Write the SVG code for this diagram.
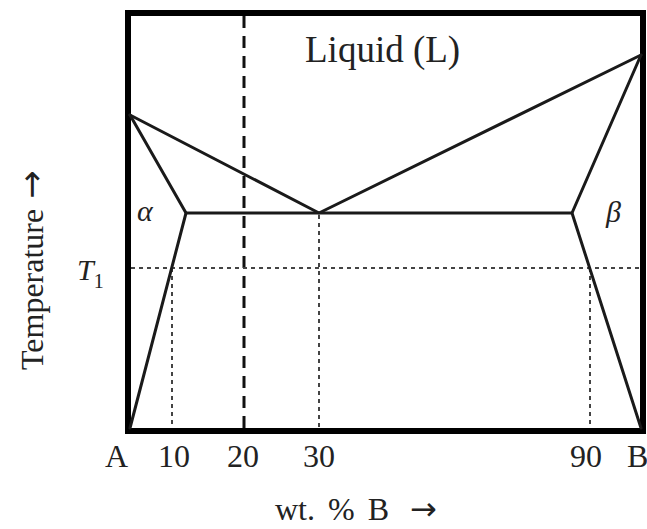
<svg xmlns="http://www.w3.org/2000/svg" width="647" height="529" viewBox="0 0 647 529">
<style>
.t{font-family:"Liberation Serif","Times New Roman",serif;fill:#222}
.i{font-style:italic}
.ar{font-family:"DejaVu Sans",sans-serif}
.ph{fill:none;stroke:#1a1a1a;stroke-width:3;stroke-linecap:round;stroke-linejoin:round}
.dot{fill:none;stroke:#444;stroke-width:2;stroke-dasharray:4 4}
.dash{fill:none;stroke:#111;stroke-width:3;stroke-dasharray:12 8}
</style>
<rect width="647" height="529" fill="#fff"/>
<g id="frame">
<rect x="128" y="13" width="515" height="418" fill="none" stroke="#000" stroke-width="6"/>
</g>
<g id="guides">
<line class="dash" x1="244" y1="16" x2="244" y2="428"/>
<line class="dot" x1="131" y1="268" x2="640" y2="268"/>
<line class="dot" x1="172" y1="268" x2="172" y2="428"/>
<line class="dot" x1="319" y1="215" x2="319" y2="428"/>
<line class="dot" x1="590" y1="268" x2="590" y2="428"/>
</g>
<g id="phase-lines">
<polyline class="ph" points="130,115 319,213 641,55"/>
<polyline class="ph" points="130,115 186,213 130,428"/>
<polyline class="ph" points="641,55 572,213 641,428"/>
<line class="ph" x1="186" y1="213" x2="572" y2="213"/>
</g>
<g id="labels">
<text class="t" x="305" y="62" font-size="37">Liquid (L)</text>
<text class="t i" x="137" y="221" font-size="30">α</text>
<text class="t i" x="606" y="222" font-size="30">β</text>
<text class="t i" x="77" y="280" font-size="30">T<tspan font-size="20" dy="8" font-style="normal">1</tspan></text>
<text class="t" font-size="32" transform="translate(43,370) rotate(-90)">Temperature <tspan class="ar" font-size="34" dx="2">→</tspan></text>
<text class="t" x="105" y="467" font-size="32">A</text>
<text class="t" x="158" y="467" font-size="32">10</text>
<text class="t" x="227" y="467" font-size="32">20</text>
<text class="t" x="303" y="467" font-size="32">30</text>
<text class="t" x="570" y="467" font-size="32">90</text>
<text class="t" x="627" y="467" font-size="32">B</text>
<text class="t" x="275" y="520" font-size="32" word-spacing="5">wt. % B <tspan class="ar" font-size="32" dx="8">→</tspan></text>
</g>
</svg>
